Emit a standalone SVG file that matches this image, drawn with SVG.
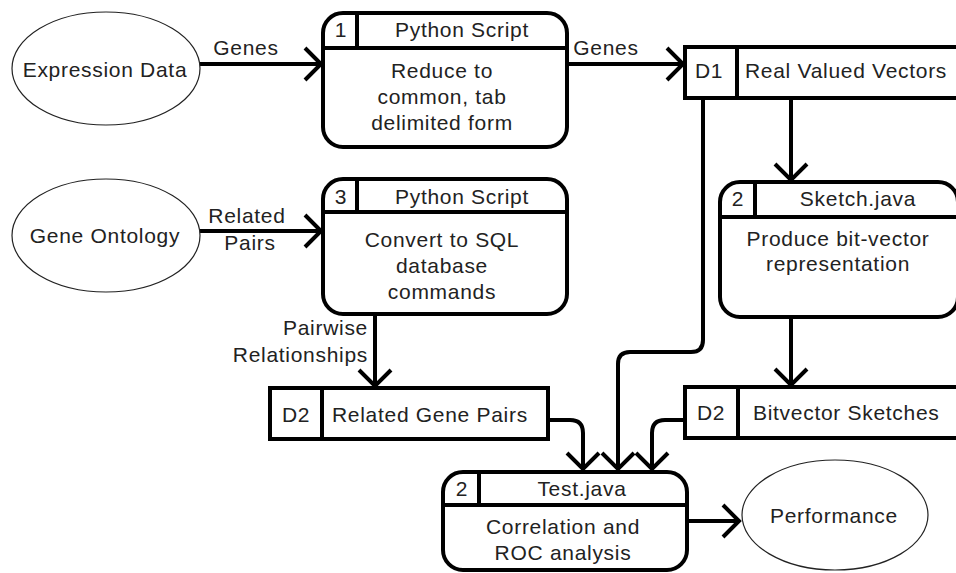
<svg xmlns="http://www.w3.org/2000/svg" width="956" height="573" viewBox="0 0 956 573">
<style>
  text { font-family: "Liberation Sans", Arial, Helvetica, sans-serif; font-size: 21px; letter-spacing: 0.7px; fill: #222; }
  .m { text-anchor: middle; }
  .e { text-anchor: end; }
  .box { fill: #fff; stroke: #000; stroke-width: 4; }
  .div { stroke: #000; stroke-width: 4; fill: none; }
  .ell { fill: #fff; stroke: #222; stroke-width: 1.2; }
  .conn { fill: none; stroke: #000; stroke-width: 4; marker-end: url(#ah); }
</style>
<defs>
  <marker id="ah" markerUnits="userSpaceOnUse" viewBox="-20 -20 40 40" markerWidth="40" markerHeight="40" refX="0" refY="0" orient="auto" overflow="visible">
    <path d="M-16,-16 L0,0 L-16,16" fill="none" stroke="#000" stroke-width="4"/>
  </marker>
</defs>
<rect width="956" height="573" fill="#fff"/>

<g id="connectors">
  <path class="conn" d="M200,64 H321"/>
  <path class="conn" d="M567,64 H683"/>
  <path class="conn" d="M791,98 V180"/>
  <path class="conn" d="M703,98 V340 Q703,352 691,352 H630 Q618,352 618,364 V469"/>
  <path class="conn" d="M200,231 H321"/>
  <path class="conn" d="M375,314 V386"/>
  <path class="conn" d="M791,317 V385"/>
  <path class="conn" d="M548,420 H570 Q583,420 583,433 V469"/>
  <path class="conn" d="M685,420 H665 Q652,420 652,433 V469"/>
  <path class="conn" d="M687,521 H739"/>
  <text x="246" y="55" class="m">Genes</text>
  <text x="606" y="55" class="m">Genes</text>
  <text x="247" y="223" class="m">Related</text>
  <text x="250" y="250" class="m">Pairs</text>
  <text x="368" y="335" class="e">Pairwise</text>
  <text x="368" y="362" class="e">Relationships</text>
</g>

<g id="expression-data">
  <ellipse class="ell" cx="106" cy="68.5" rx="94" ry="56.5"/>
  <text x="105" y="77" class="m">Expression Data</text>
</g>

<g id="gene-ontology">
  <ellipse class="ell" cx="106" cy="235.5" rx="94" ry="56.5"/>
  <text x="105" y="243" class="m">Gene Ontology</text>
</g>

<g id="process-1">
  <rect class="box" x="323" y="13" width="244" height="134" rx="20"/>
  <line class="div" x1="323" y1="48" x2="567" y2="48"/>
  <line class="div" x1="357" y1="13" x2="357" y2="48"/>
  <text x="341" y="37" class="m">1</text>
  <text x="462" y="37" class="m">Python Script</text>
  <text x="442" y="78" class="m">Reduce to</text>
  <text x="442" y="104" class="m">common, tab</text>
  <text x="442" y="130" class="m">delimited form</text>
</g>

<g id="process-3">
  <rect class="box" x="323" y="179" width="244" height="135" rx="20"/>
  <line class="div" x1="323" y1="212" x2="567" y2="212"/>
  <line class="div" x1="357" y1="179" x2="357" y2="212"/>
  <text x="341" y="204" class="m">3</text>
  <text x="462" y="204" class="m">Python Script</text>
  <text x="442" y="247" class="m">Convert to SQL</text>
  <text x="442" y="273" class="m">database</text>
  <text x="442" y="299" class="m">commands</text>
</g>

<g id="store-d1">
  <rect class="box" x="685" y="47" width="275" height="51"/>
  <line class="div" x1="737" y1="47" x2="737" y2="98"/>
  <text x="709" y="78" class="m">D1</text>
  <text x="745" y="78">Real Valued Vectors</text>
</g>

<g id="process-sketch">
  <rect class="box" x="720" y="182" width="238" height="135" rx="20"/>
  <line class="div" x1="720" y1="217" x2="958" y2="217"/>
  <line class="div" x1="755" y1="182" x2="755" y2="217"/>
  <text x="738" y="206" class="m">2</text>
  <text x="858" y="206" class="m">Sketch.java</text>
  <text x="838" y="246" class="m">Produce bit-vector</text>
  <text x="838" y="271" class="m">representation</text>
</g>

<g id="store-related-pairs">
  <rect class="box" x="270" y="388" width="278" height="51"/>
  <line class="div" x1="322" y1="388" x2="322" y2="439"/>
  <text x="296" y="422" class="m">D2</text>
  <text x="332" y="422">Related Gene Pairs</text>
</g>

<g id="store-bitvector">
  <rect class="box" x="685" y="387" width="275" height="51"/>
  <line class="div" x1="738" y1="387" x2="738" y2="438"/>
  <text x="711" y="420" class="m">D2</text>
  <text x="753" y="420">Bitvector Sketches</text>
</g>

<g id="process-test">
  <rect class="box" x="443" y="472" width="244" height="98" rx="20"/>
  <line class="div" x1="443" y1="505" x2="687" y2="505"/>
  <line class="div" x1="479" y1="472" x2="479" y2="505"/>
  <text x="462" y="496" class="m">2</text>
  <text x="582" y="496" class="m">Test.java</text>
  <text x="563" y="534" class="m">Correlation and</text>
  <text x="563" y="560" class="m">ROC analysis</text>
</g>

<g id="performance">
  <ellipse class="ell" cx="835" cy="515" rx="93" ry="55"/>
  <text x="834" y="523" class="m">Performance</text>
</g>
</svg>
